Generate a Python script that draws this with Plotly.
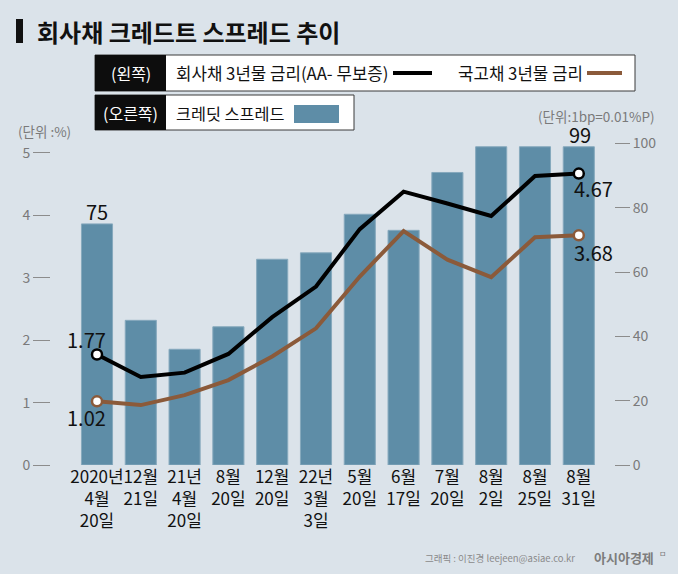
import plotly.graph_objects as go

# ---- data ----
categories = ["2020년<br>4월<br>20일", "12월<br>21일", "21년<br>4월<br>20일", "8월<br>20일",
              "12월<br>20일", "22년<br>3월<br>3일", "5월<br>20일", "6월<br>17일",
              "7월<br>20일", "8월<br>2일", "8월<br>25일", "8월<br>31일"]
credit_spread = [75, 45, 36, 43, 64, 66, 78, 73, 91, 99, 99, 99]          # bp (right axis)
corp_yield = [1.77, 1.41, 1.48, 1.78, 2.37, 2.86, 3.78, 4.38, 4.19, 3.99, 4.63, 4.67]  # % (left)
gov_yield = [1.02, 0.96, 1.12, 1.36, 1.74, 2.19, 3.02, 3.75, 3.29, 3.01, 3.65, 3.68]    # % (left)
left_ticks = [0, 1, 2, 3, 4, 5]
right_ticks = [0, 20, 40, 60, 80, 100]

# ---- style ----
W, H = 678, 574
L, R, T, B = 51, 614, 140, 465
BG = "#dbe3ea"
BAR = "#5e8da7"
BROWN = "#8b5a3a"
FONT = "Noto Sans CJK KR"


def px(x):
    return (x - L) / (R - L)


def py(y):
    return (B - y) / (B - T)


fig = go.Figure()

fig.add_trace(go.Bar(
    x=categories, y=credit_spread, yaxis="y", width=0.71,
    marker=dict(color=BAR, line=dict(color="#86a9bd", width=1)),
    hoverinfo="skip", showlegend=False))

fig.add_trace(go.Scatter(
    x=categories, y=corp_yield, yaxis="y2", mode="lines",
    line=dict(color="#000000", width=4), showlegend=False, hoverinfo="skip"))
fig.add_trace(go.Scatter(
    x=categories, y=gov_yield, yaxis="y2", mode="lines",
    line=dict(color=BROWN, width=4), showlegend=False, hoverinfo="skip"))
fig.add_trace(go.Scatter(
    x=[categories[0], categories[-1]], y=[corp_yield[0], corp_yield[-1]], yaxis="y2",
    mode="markers", marker=dict(color="white", size=10, line=dict(color="#000000", width=2.5)),
    showlegend=False, hoverinfo="skip", cliponaxis=False))
fig.add_trace(go.Scatter(
    x=[categories[0], categories[-1]], y=[gov_yield[0], gov_yield[-1]], yaxis="y2",
    mode="markers", marker=dict(color="white", size=10, line=dict(color=BROWN, width=2.5)),
    showlegend=False, hoverinfo="skip", cliponaxis=False))

ann = []
numfont = dict(family=FONT, size=20, color="#111111")
# bar labels
ann.append(dict(x=categories[0], y=credit_spread[0], xref="x", yref="y", text=str(credit_spread[0]),
                showarrow=False, xanchor="center", yanchor="middle", yshift=12, font=numfont))
ann.append(dict(x=categories[-1], y=credit_spread[-1], xref="x", yref="y", text=str(credit_spread[-1]),
                showarrow=False, xanchor="center", yanchor="middle", yshift=12, xshift=1, font=numfont))
# line labels
ann.append(dict(x=categories[0], y=corp_yield[0], xref="x", yref="y2", text=f"{corp_yield[0]:.2f}",
                showarrow=False, xanchor="center", yanchor="middle", xshift=-10, yshift=15, font=numfont))
ann.append(dict(x=categories[0], y=gov_yield[0], xref="x", yref="y2", text=f"{gov_yield[0]:.2f}",
                showarrow=False, xanchor="center", yanchor="middle", xshift=-10, yshift=-16, font=numfont))
ann.append(dict(x=categories[-1], y=corp_yield[-1], xref="x", yref="y2", text=f"{corp_yield[-1]:.2f}",
                showarrow=False, xanchor="center", yanchor="middle", xshift=15, yshift=-15, font=numfont))
ann.append(dict(x=categories[-1], y=gov_yield[-1], xref="x", yref="y2", text=f"{gov_yield[-1]:.2f}",
                showarrow=False, xanchor="center", yanchor="middle", xshift=15, yshift=-17, font=numfont))


def txt(x, y, text, size, color="#111111", anchor="left", bold=False):
    ann.append(dict(x=px(x), y=py(y), xref="paper", yref="paper",
                    text=f"<b>{text}</b>" if bold else text, showarrow=False,
                    xanchor=anchor, yanchor="middle",
                    font=dict(family=FONT, size=size, color=color)))


# title
txt(35, 31, "회사채 크레드트 스프레드 추이", 24, "#111111", bold=True)
# legend texts
txt(130.5, 73, "(왼쪽)", 16, "white", anchor="center")
txt(130.5, 112.5, "(오른쪽)", 16, "white", anchor="center")
txt(174, 73, "회사채 3년물 금리(AA- 무보증)", 16.8)
txt(456, 73, "국고채 3년물 금리", 16.8)
txt(174, 112.5, "크레딧 스프레드", 16.3)
# units
txt(16, 131, "(단위 :%)", 13.5, "#7a7a7a")
txt(657, 116, "(단위:1bp=0.01%P)", 13.5, "#7a7a7a", anchor="right")
# footer
txt(577, 558, "그래픽 : 이진경 leejeen@asiae.co.kr", 9.5, "#8a8a8a", anchor="right")
txt(592, 557, "아시아경제", 13, "#7d7d7d", bold=True)
ann.append(dict(x=px(657), y=py(553), xref="paper", yref="paper", text="ㅁ", showarrow=False,
                xanchor="left", yanchor="middle", font=dict(family=FONT, size=8, color="#7d7d7d")))

shapes = []


def rect(x0, y0, x1, y1, fill, line=None, lw=0):
    shapes.append(dict(type="rect", xref="paper", yref="paper", x0=px(x0), x1=px(x1),
                       y0=py(y1), y1=py(y0), fillcolor=fill,
                       line=dict(color=line or fill, width=lw), layer="above"))


def hline(x0, x1, y, color, w):
    shapes.append(dict(type="line", xref="paper", yref="paper", x0=px(x0), x1=px(x1),
                       y0=py(y), y1=py(y), line=dict(color=color, width=w), layer="above"))


rect(16, 19, 23, 43, "#111111")
# legend box 1
rect(95, 55, 635, 91, "white", "#3a3a3a", 1)
rect(95, 55, 166, 91, "#0d0d0d")
hline(393, 432, 73, "#000000", 4)
hline(587, 622, 73, BROWN, 4)
# legend box 2
rect(95, 95, 354, 130, "white", "#3a3a3a", 1)
rect(95, 95, 166, 130, "#0d0d0d")
rect(294, 105, 339, 123, BAR)

fig.update_layout(
    width=W, height=H,
    margin=dict(l=L, r=W - R, t=T, b=H - B, pad=0),
    paper_bgcolor=BG, plot_bgcolor=BG,
    font=dict(family=FONT),
    bargap=0.29,
    xaxis=dict(type="category", range=[-1.05, 11.804], showgrid=False, zeroline=False, showline=False,
               ticks="", tickangle=0, tickfont=dict(family=FONT, size=17, color="#111111"),
               fixedrange=True),
    yaxis=dict(side="right", range=[0, 101.1], tickvals=right_ticks, showgrid=False, zeroline=False,
               showline=False, ticks="outside", ticklen=15, tickwidth=1, tickcolor="#8c8c8c",
               tickfont=dict(family=FONT, size=14, color="#7a7a7a")),
    yaxis2=dict(side="left", overlaying="y", range=[0, 5.208], tickvals=left_ticks, showgrid=False,
                zeroline=False, showline=False, ticks="outside", ticklen=17, tickwidth=1,
                tickcolor="#8c8c8c", tickfont=dict(family=FONT, size=14, color="#7a7a7a")),
    annotations=ann, shapes=shapes, showlegend=False,
)

fig.write_html("out.html", config={"displayModeBar": False},
               post_script="document.body.style.margin='0';document.body.style.background='%s';" % BG)
